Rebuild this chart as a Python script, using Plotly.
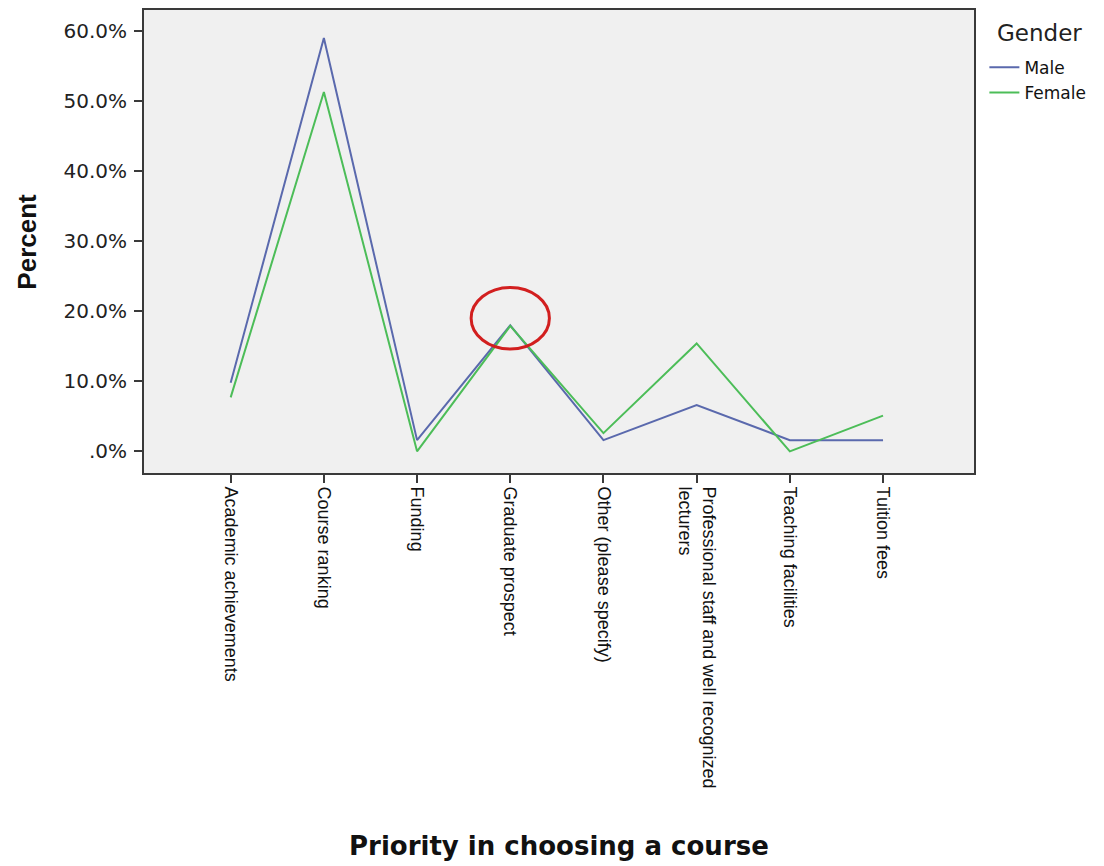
import plotly.graph_objects as go

categories = [
    "Academic achievements",
    "Course ranking",
    "Funding",
    "Graduate prospect",
    "Other (please specify)",
    "Professional staff and well recognized<br>lecturers",
    "Teaching facilities",
    "Tuition fees",
]
male_pct = [9.8, 59.0, 1.6, 18.0, 1.6, 6.6, 1.6, 1.6]
female_pct = [7.7, 51.3, 0.0, 17.9, 2.6, 15.4, 0.0, 5.1]
y_ticks = [0, 10, 20, 30, 40, 50, 60]
y_tick_labels = [".0%", "10.0%", "20.0%", "30.0%", "40.0%", "50.0%", "60.0%"]
highlight = "Graduate prospect"

idx = list(range(len(categories)))

fig = go.Figure()
fig.add_trace(go.Scatter(x=idx, y=male_pct, mode="lines", name="Male",
                         line=dict(color="#5a69ad", width=2)))
fig.add_trace(go.Scatter(x=idx, y=female_pct, mode="lines", name="Female",
                         line=dict(color="#4cbd58", width=2)))

# red circle highlighting the graduate-prospect peak
hi = categories.index(highlight)
hv = max(male_pct[hi], female_pct[hi])
fig.add_shape(type="circle", xref="x", yref="y",
              x0=hi - 0.42, x1=hi + 0.42, y0=hv - 3.4, y1=hv + 5.4,
              line=dict(color="#d21f1f", width=3))

axis_col = "#3a3a3a"
fig.update_layout(
    width=1096, height=858,
    margin=dict(l=136, r=130, t=2, b=393, autoexpand=False),
    paper_bgcolor="white",
    plot_bgcolor="#f0f0f0",
    font=dict(family="Liberation Sans, Arial", color="#111"),
    showlegend=True,
    legend=dict(
        x=1.0125, y=0.914, xanchor="left", yanchor="top",
        font=dict(family="DejaVu Sans", size=17, color="#111"),
        bgcolor="rgba(0,0,0,0)",
        itemwidth=30,
        tracegroupgap=0,
    ),
    xaxis=dict(
        range=[-0.93, 7.976],
        tickmode="array", tickvals=idx, ticktext=categories,
        tickangle=90,
        tickfont=dict(family="Liberation Sans, Arial", size=18, color="#111"),
        ticks="outside", ticklen=8, tickwidth=1.5, tickcolor=axis_col,
        showline=True, linecolor=axis_col, linewidth=2, mirror=True,
        showgrid=False, zeroline=False, automargin=False,
    ),
    yaxis=dict(
        range=[-3.09, 63.0],
        tickmode="array", tickvals=y_ticks, ticktext=y_tick_labels,
        tickfont=dict(family="DejaVu Sans", size=20, color="#222"),
        ticklabelstandoff=3,
        ticks="outside", ticklen=8, tickwidth=1.5, tickcolor=axis_col,
        showline=True, linecolor=axis_col, linewidth=2, mirror=True,
        showgrid=False, zeroline=False, automargin=False,
    ),
    annotations=[
        dict(text="Gender", xref="paper", yref="paper",
             x=1.0795, y=0.951, xanchor="center", yanchor="middle",
             showarrow=False,
             font=dict(family="DejaVu Sans", size=23, color="#222")),
        dict(text="<b>Percent</b>", xref="paper", yref="paper",
             x=-0.142, y=0.5, xanchor="center", yanchor="middle",
             textangle=-90, showarrow=False,
             font=dict(family="Liberation Sans, Arial", size=26, color="#111")),
        dict(text="<b>Priority in choosing a course</b>", xref="paper", yref="paper",
             x=0.5, y=-0.8065, xanchor="center", yanchor="middle",
             showarrow=False,
             font=dict(family="DejaVu Sans", size=26, color="#111")),
    ],
)

fig.write_html("out.html")
